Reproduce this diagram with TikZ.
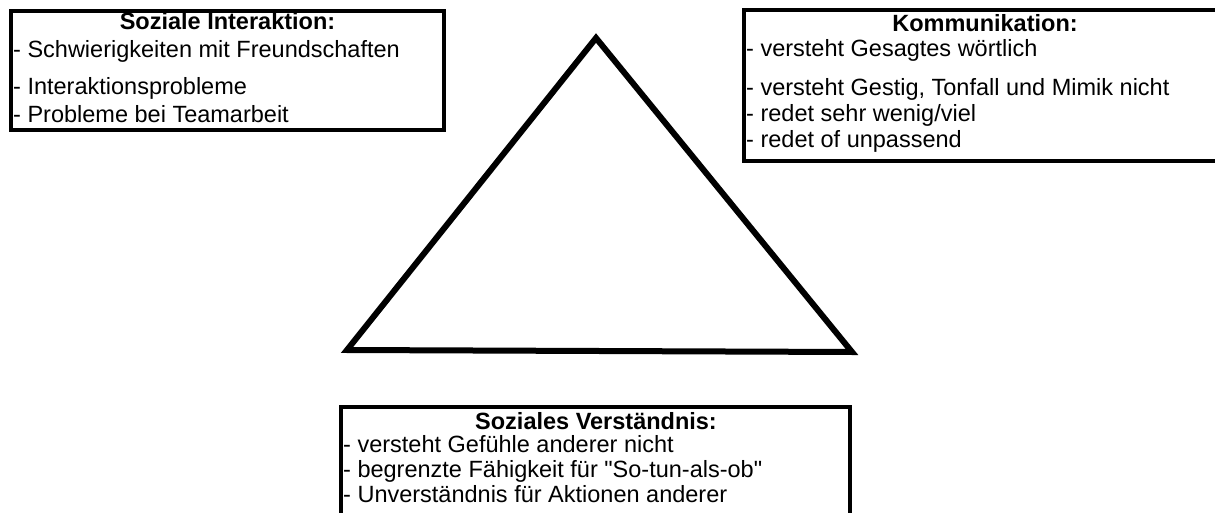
\documentclass[tikz,border=0pt]{standalone}
\usepackage{fontspec}
\setmainfont{Liberation Sans}[Ligatures=TeXOff]
\usepackage{tikz}
\usetikzlibrary{positioning,calc}

\tikzset{
	kasten/.style={draw, line width=4pt, anchor=north west, inner sep=0pt, outer sep=0pt},
	titel/.style={anchor=base, inner sep=0pt, font=\fontsize{23.5}{28}\selectfont\bfseries},
	punkt/.style={anchor=base west, inner sep=0pt, font=\fontsize{23.5}{28}\selectfont},
}

\begin{document}
\begin{tikzpicture}[x=1pt,y=-1pt]
		\useasboundingbox (0,0) rectangle (1215,513);
		\clip (0,0) rectangle (1215,513);
		% Kaesten
		\node[kasten, minimum width=433pt, minimum height=119pt] (interaktion) at (11,11) {};
		\node[kasten, minimum width=482pt, minimum height=151pt] (kommunikation) at (744,10) {};
		\node[kasten, minimum width=509pt, minimum height=130pt] (verstaendnis) at (341,407) {};
		% Soziale Interaktion
		\node[titel] (interaktionTitel) at (227.5,30) {Soziale Interaktion:};
		\node[punkt] (freundschaft) at (13,58) {- Schwierigkeiten mit Freundschaften};
		\node[punkt] (interaktionsprobleme) at (13,95) {- Interaktionsprobleme};
		\node[punkt] (teamarbeit) at (13,123) {- Probleme bei Teamarbeit};
		% Kommunikation
		\node[titel] (kommunikationTitel) at (985,32) {Kommunikation:};
		\node[punkt] (woertlich) at (746,57) {- versteht Gesagtes wörtlich};
		\node[punkt] (mimik) at (746,96) {- versteht Gestig, Tonfall und Mimik nicht};
		\node[punkt] (wenig) at (746,122) {- redet sehr wenig/viel};
		\node[punkt] (unpassend) at (746,148) {- redet of unpassend};
		% Soziales Verstaendnis
		\node[titel] (verstaendnisTitel) at (596,429) {Soziales Verständnis:};
		\node[punkt] (gefuehle) at (343,452) {- versteht Gefühle anderer nicht};
		\node[punkt] (sotun) at (343,477) {- begrenzte Fähigkeit für "So-tun-als-ob"};
		\node[punkt] (aktionen) at (343,502) {- Unverständnis für Aktionen anderer};
		% Dreieck
		\coordinate (spitze) at (596,38);
		\coordinate (links) at (347,350);
		\coordinate (rechts) at (852,352);
		\draw[line width=6pt] (spitze) -- (links) -- (rechts) -- cycle;
\end{tikzpicture}
\end{document}
